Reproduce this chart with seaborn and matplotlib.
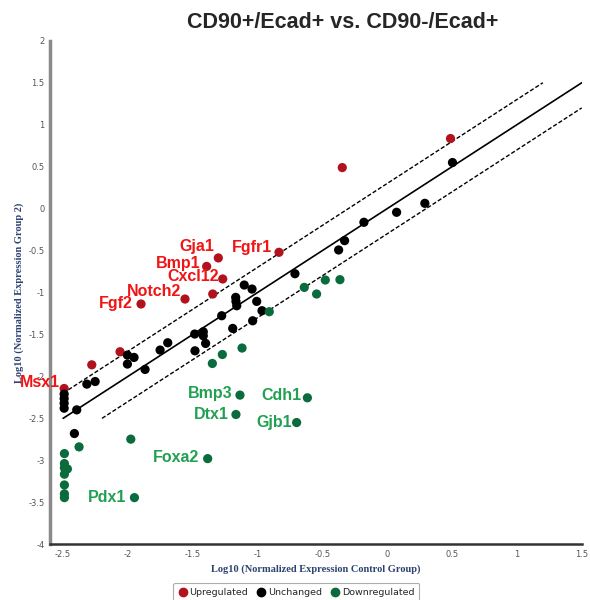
import matplotlib
matplotlib.use('Agg')
import matplotlib.pyplot as plt
import seaborn as sns
import pandas as pd

# log10 normalized expression: (control group, group 2)
up_x = [-1.303, -1.393, -1.269, -1.560, -1.899, -1.346, -0.835, -2.061, -2.279, -2.492, 0.488, -0.347]
up_y = [-0.588, -0.689, -0.839, -1.078, -1.137, -1.018, -0.521, -1.706, -1.862, -2.144, 0.835, 0.489]

unch_x = [-2.317, -2.253, -2.004, -1.953, -2.004, -1.868, -1.752, -1.693, -1.485, -1.419,
          -1.419, -1.401, -1.483, -1.277, -1.192, -1.169, -1.167, -1.161, -1.103, -1.043,
          -1.007, -0.966, -1.038, -0.712, -2.395, 0.503, 0.290, 0.072, -0.180, -0.329,
          -0.375, -2.492, -2.492, -2.492, -2.492, -2.413]
unch_y = [-2.092, -2.061, -1.746, -1.774, -1.853, -1.917, -1.686, -1.599, -1.495, -1.468,
          -1.516, -1.607, -1.695, -1.277, -1.428, -1.058, -1.106, -1.158, -0.911, -0.959,
          -1.106, -1.217, -1.337, -0.776, -2.399, 0.549, 0.063, -0.044, -0.163, -0.382,
          -0.493, -2.211, -2.264, -2.320, -2.379, -2.681]

down_x = [-0.910, -0.640, -1.349, -1.272, -1.120, -1.136, -1.167, -0.616, -0.699, -1.385,
          -0.365, -0.478, -0.545, -2.377, -1.978, -1.950, -2.490, -2.490, -2.490, -2.490,
          -2.490, -2.490, -2.490, -2.467]
down_y = [-1.229, -0.939, -1.846, -1.739, -1.662, -2.223, -2.454, -2.255, -2.550, -2.980,
          -0.847, -0.851, -1.018, -2.840, -2.748, -3.445, -2.920, -3.039, -3.090, -3.166,
          -3.294, -3.400, -3.445, -3.103]

# gene labels: name -> (x, y, text offset in pixels)
up_genes = {"Gja1": (-1.303, -0.588, (-4, 11)), "Bmp1": (-1.393, -0.689, (-6, 3)),
            "Cxcl12": (-1.269, -0.839, (-4, 2)), "Notch2": (-1.560, -1.078, (-4, 8)),
            "Fgf2": (-1.899, -1.137, (-8, 0)), "Fgfr1": (-0.835, -0.521, (-7, 5)),
            "Msx1": (-2.492, -2.144, (-4, 6))}
down_genes = {"Bmp3": (-1.136, -2.223, (-7, 2)), "Dtx1": (-1.167, -2.454, (-7, 0)),
              "Cdh1": (-0.616, -2.255, (-6, 2)), "Gjb1": (-0.699, -2.550, (-5, 0)),
              "Foxa2": (-1.385, -2.980, (-8, 1)), "Pdx1": (-1.950, -3.445, (-8, 0))}

status = ["Upregulated", "Unchanged", "Downregulated"]
colors = {"Upregulated": "#b0131e", "Unchanged": "#000000", "Downregulated": "#0a6b3c"}

df = pd.DataFrame({
    "control": up_x + unch_x + down_x,
    "group2": up_y + unch_y + down_y,
    "status": [status[0]] * len(up_x) + [status[1]] * len(unch_x) + [status[2]] * len(down_x),
})

sns.set_style("white")
plt.rcParams['font.family'] = ['Liberation Sans', 'DejaVu Sans']

fig = plt.figure(figsize=(5.9, 6.0), dpi=100)
ax = fig.add_axes([0.085, 0.093, 0.901, 0.839])

# fold-change 2 guide lines
ax.plot([-2.5, 1.5], [-2.5, 1.5], color="black", lw=1.2, zorder=1)
ax.plot([-2.5, 1.2], [-2.2, 1.5], color="black", lw=1.0, ls=(0, (3, 1.5)), zorder=1)
ax.plot([-2.2, 1.5], [-2.5, 1.2], color="black", lw=1.0, ls=(0, (3, 1.5)), zorder=1)

sns.scatterplot(data=df, x="control", y="group2", hue="status", hue_order=status,
                palette=colors, s=44, edgecolor="none", ax=ax, legend=False, zorder=3)

for g, (x, y, off) in up_genes.items():
    ax.annotate(g, (x, y), xytext=off, textcoords="offset pixels", ha="right", va="center",
                color="#f01414", fontsize=11.5, fontweight="bold", zorder=5)
for g, (x, y, off) in down_genes.items():
    ax.annotate(g, (x, y), xytext=off, textcoords="offset pixels", ha="right", va="center",
                color="#22a052", fontsize=11.5, fontweight="bold", zorder=5)

ax.set_xlim(-2.6, 1.5)
ax.set_ylim(-4, 2)
ax.set_xticks([-2.5, -2, -1.5, -1, -0.5, 0, 0.5, 1, 1.5])
ax.set_xticklabels(["-2.5", "-2", "-1.5", "-1", "-0.5", "0", "0.5", "1", "1.5"])
ax.set_yticks([-4, -3.5, -3, -2.5, -2, -1.5, -1, -0.5, 0, 0.5, 1, 1.5, 2])
ax.set_yticklabels(["-4", "-3.5", "-3", "-2.5", "-2", "-1.5", "-1", "-0.5", "0", "0.5", "1", "1.5", "2"])
ax.tick_params(axis="both", labelsize=6, colors="#666666", length=2, width=0.6,
               labelcolor="#555555", pad=2)
ax.tick_params(axis="x", length=0, pad=4)
for lab in ax.get_xticklabels() + ax.get_yticklabels():
    lab.set_family("DejaVu Sans")

for s in ["top", "right"]:
    ax.spines[s].set_visible(False)
ax.spines["left"].set_color("#8a8a8a")
ax.spines["left"].set_linewidth(2.5)
ax.spines["bottom"].set_color("#333333")
ax.spines["bottom"].set_linewidth(1.8)

ax.set_xlabel("Log10 (Normalized Expression Control Group)", fontsize=7.5, color="#2d4270",
              fontweight="bold", family="Liberation Serif", labelpad=4)
ax.set_ylabel("Log10 (Normalized Expression Group 2)", fontsize=7.5, color="#2d4270",
              fontweight="bold", family="Liberation Serif", labelpad=3)

fig.text(0.581, 0.962, "CD90+/Ecad+ vs. CD90-/Ecad+", ha="center", va="center",
         fontsize=15.5, fontweight="bold")

handles = [plt.Line2D([], [], marker="o", ls="", color=colors[k], markersize=6, label=k)
           for k in status]
leg = fig.legend(handles=handles, loc="upper center", bbox_to_anchor=(0.502, 0.036), ncol=3,
                 prop={"family": "DejaVu Sans", "size": 6.8}, frameon=True,
                 handletextpad=0.2, columnspacing=0.9, borderpad=0.55, handlelength=1.0,
                 fancybox=True)
leg.get_frame().set_edgecolor("#999999")
leg.get_frame().set_linewidth(0.8)

fig.savefig("out.png", dpi=100)
